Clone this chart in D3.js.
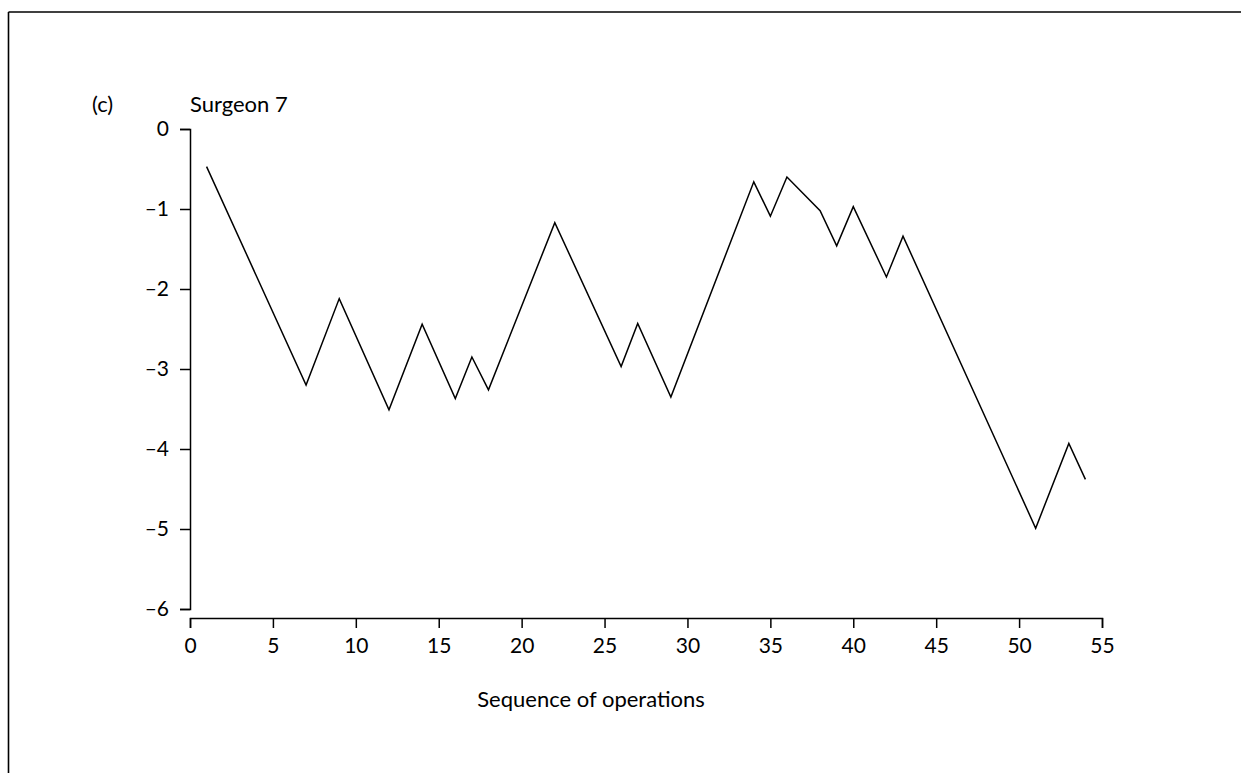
<!DOCTYPE html>
<head>
    <script src="https://d3js.org/d3.v7.min.js" charset="utf-8"></script>
    <style>
        html, body { margin: 0; background: #fff; overflow: hidden; }
        svg { display: block; }
        text { font-family: Lato, "Open Sans", sans-serif; fill: #000; }
    </style>
</head>
<body>
    <div id="container"></div>
    <script>
    // turning points of the curve (operation number, cumulative value)
    var operations = [1, 7, 9, 12, 14, 16, 17, 18, 22, 26, 27, 29, 34, 35, 36, 38, 39, 40, 42, 43, 51, 53, 54];
    var cusum = [-0.47, -3.2, -2.12, -3.51, -2.44, -3.37, -2.85, -3.26, -1.17, -2.97, -2.43, -3.35,
                 -0.66, -1.09, -0.6, -1.02, -1.46, -0.97, -1.85, -1.34, -4.99, -3.93, -4.38];
    var xTicks = [0, 5, 10, 15, 20, 25, 30, 35, 40, 45, 50, 55];
    var yTicks = [0, -1, -2, -3, -4, -5, -6];

    var width = 1241, height = 773;

    var svg = d3.select("#container")
        .append("svg")
        .attr("width", width)
        .attr("height", height);

    // frame: only the top and left edges are drawn
    svg.append("line")
        .attr("x1", 8.5).attr("y1", 12)
        .attr("x2", 8.5).attr("y2", height)
        .attr("stroke", "#000").attr("stroke-width", 1.6);
    svg.append("line")
        .attr("x1", 8.5).attr("y1", 12)
        .attr("x2", width).attr("y2", 12)
        .attr("stroke", "#000").attr("stroke-width", 1.6);

    var x = d3.scaleLinear().domain([0, 55]).range([190, 1102]);
    var y = d3.scaleLinear().domain([-6, 0]).range([609, 129]);

    var fmt = function (d) { return d < 0 ? "\u2013" + Math.abs(d) : String(d); };

    var yAxis = svg.append("g")
        .attr("transform", "translate(190,0)")
        .call(d3.axisLeft(y).tickValues(yTicks).tickSize(10).tickPadding(11).tickFormat(fmt));

    var xAxis = svg.append("g")
        .attr("transform", "translate(0,618)")
        .call(d3.axisBottom(x).tickValues(xTicks).tickSize(10).tickPadding(10).tickFormat(fmt));

    [xAxis, yAxis].forEach(function (g) {
        g.selectAll("path, line").attr("stroke", "#000").attr("stroke-width", 1.5);
        g.selectAll("text").style("font-size", "21px").attr("fill", "#000");
    });

    var points = operations.map(function (d, i) { return [d, cusum[i]]; });

    svg.append("path")
        .datum(points)
        .attr("fill", "none")
        .attr("stroke", "#000")
        .attr("stroke-width", 1.5)
        .attr("d", d3.line()
            .x(function (d) { return x(d[0]); })
            .y(function (d) { return y(d[1]); }));

    svg.append("text")
        .attr("x", 92)
        .attr("y", 112)
        .style("font-size", "22px")
        .text("(c)");

    svg.append("text")
        .attr("x", 190)
        .attr("y", 112)
        .style("font-size", "22px")
        .text("Surgeon 7");

    svg.append("text")
        .attr("x", 591)
        .attr("y", 707)
        .attr("text-anchor", "middle")
        .style("font-size", "22px")
        .text("Sequence of operations");
    </script>
</body>
